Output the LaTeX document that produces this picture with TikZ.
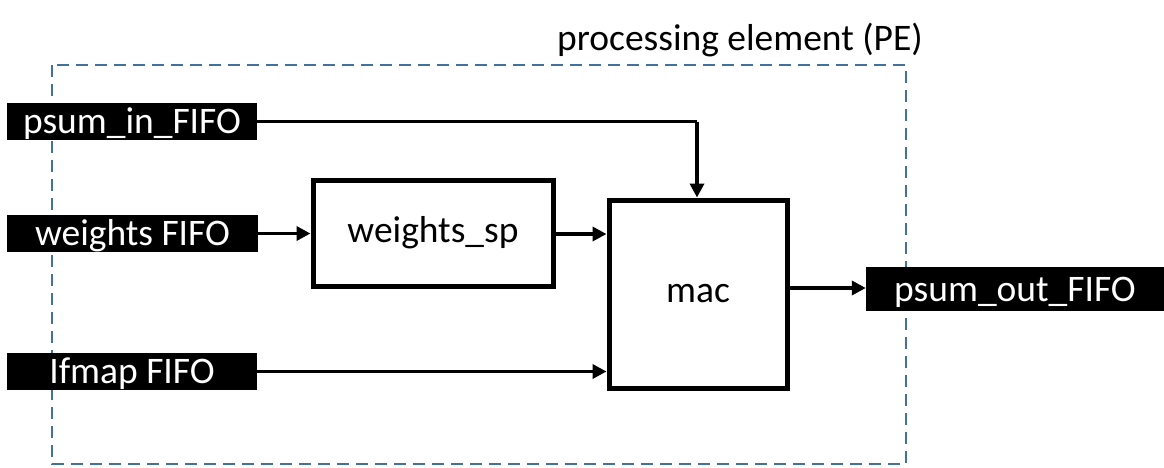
\documentclass[tikz,border=0pt]{standalone}
\usepackage{fontspec}
\setmainfont{Carlito}
\usetikzlibrary{arrows.meta}
\definecolor{peblue}{HTML}{41719C}
\tikzset{
  fifo/.style={fill=black, text=white, inner sep=0pt, minimum height=37pt, text height=24pt, text depth=0pt, font=\fontsize{37.5}{44}\selectfont},
  blk/.style={draw=black, line width=5pt, fill=white, inner sep=0pt, font=\fontsize{37.5}{44}\selectfont},
  conn/.style={line width=3.6pt, -{Triangle[length=14pt,width=14pt]}},
  pebox/.style={draw=peblue, line width=2.8pt, dash pattern=on 12pt off 7pt}
}
\begin{document}
\begin{tikzpicture}[x=1pt,y=-1pt]
\useasboundingbox (0,0) rectangle (1164,467);
\draw[pebox] (52,65) rectangle (906,464);
\node[anchor=base, font=\fontsize{37.5}{44}\selectfont] (title) at (740,50) {processing element (PE)};
\node[fifo, minimum width=250pt] (psumin) at (132,121.5) {psum\_in\_FIFO};
\node[fifo, minimum width=251pt] (wfifo) at (132.5,233.5) {weights FIFO};
\node[fifo, minimum width=250pt] (ififo) at (132,371.5) {Ifmap FIFO};
\node[fifo, minimum width=298pt, minimum height=44pt] (psumout) at (1015,289) {psum\_out\_FIFO};
\node[blk, minimum width=240pt, minimum height=106pt] (wsp) at (433,233) {weights\_sp};
\node[blk, minimum width=178pt, minimum height=188pt] (mac) at (698,294) {mac};
\coordinate (corner) at (697,121.5);
\draw[line width=3.6pt] (psumin.east) -- (corner);
\draw[conn] (corner) -- (mac.north -| corner);
\draw[conn] (wfifo.east) -- (wsp.west |- wfifo.east);
\draw[conn] (wsp.east |- 0,234) -- (mac.west |- 0,234);
\draw[conn] (ififo.east) -- (mac.west |- ififo.east);
\draw[conn] (mac.east |- 0,288) -- (psumout.west |- 0,288);
\end{tikzpicture}
\end{document}
